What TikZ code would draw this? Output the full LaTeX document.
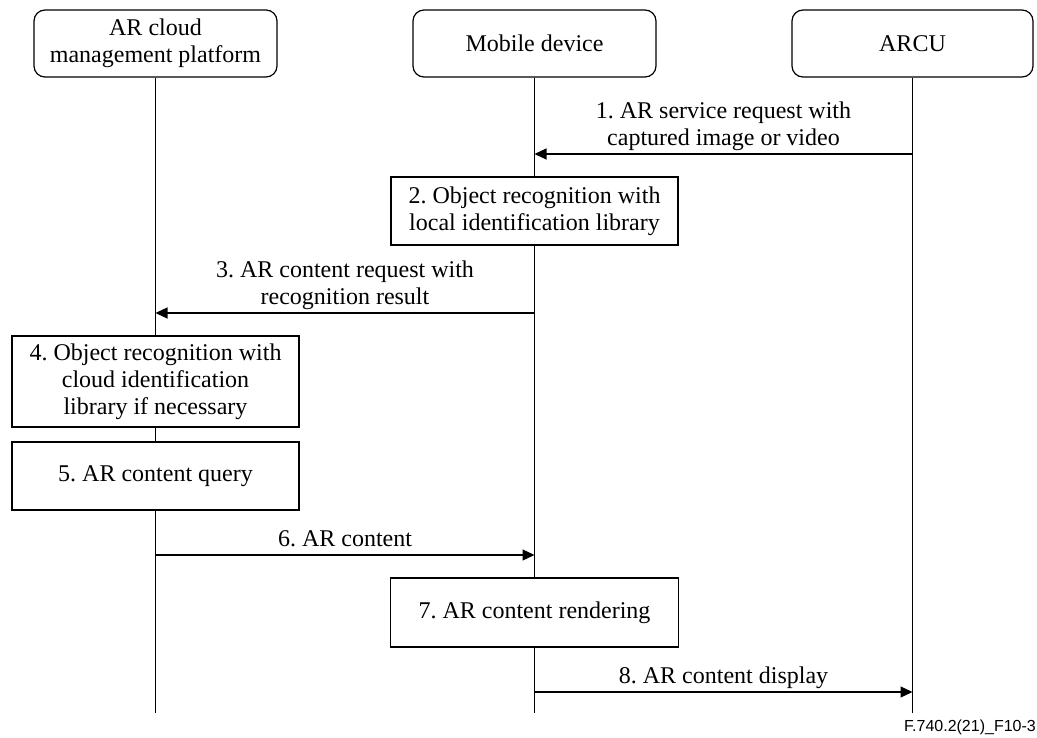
\documentclass[tikz,border=0pt]{standalone}
\usepackage{fontspec}
\setmainfont{Liberation Serif}
\newfontfamily\capfont{Liberation Sans}
\usetikzlibrary{arrows.meta}
\frenchspacing
\begin{document}
\begin{tikzpicture}[x=1pt,y=-1pt,
  txt/.style={font=\fontsize{24}{27}\selectfont},
  head/.style={txt, draw, line width=1.2pt, rounded corners=11pt, align=center, inner sep=0pt, minimum height=67pt},
  stepbox/.style={txt, draw, fill=white, line width=1.2pt, align=center, inner sep=0pt},
  life/.style={line width=1.2pt},
  msg/.style={line width=1.2pt, -{Triangle[length=12pt,width=11pt]}},
  lbl/.style={txt, align=center, anchor=south, text depth=6pt, inner sep=2pt}
]
\useasboundingbox (0,0) rectangle (1037,737);

% headers
\node[head, minimum width=243pt] (cmp) at (155.5,43.5) {AR cloud\\management platform};
\node[head, minimum width=243pt] (mob) at (534.5,43.5) {Mobile device};
\node[head, minimum width=241pt] (arcu) at (912.5,43.5) {ARCU};

% lifeline ends
\coordinate (cmpEnd) at (155.5,713);
\coordinate (mobEnd) at (534.5,713);
\coordinate (arcuEnd) at (912.5,713);

\draw[life] (cmp.south) -- (cmpEnd);
\draw[life] (mob.south) -- (mobEnd);
\draw[life] (arcu.south) -- (arcuEnd);

% processing boxes
\node[stepbox, minimum width=287pt, minimum height=68pt] (s2) at (534.5,211) {2. Object recognition with\\local identification library};
\node[stepbox, minimum width=287pt, minimum height=91pt] (s4) at (155.5,381.5) {4. Object recognition with\\cloud identification\\library if necessary};
\node[stepbox, minimum width=287pt, minimum height=68pt] (s5) at (155.5,476) {5. AR content query};
\node[stepbox, minimum width=288pt, minimum height=69pt] (s7) at (534.5,612.5) {7. AR content rendering};

% message points
\coordinate (m1a) at (912.5,154);
\coordinate (m1b) at (534.5,154);
\coordinate (m3a) at (534.5,313);
\coordinate (m3b) at (155.5,313);
\coordinate (m6a) at (155.5,555);
\coordinate (m6b) at (534.5,555);
\coordinate (m8a) at (534.5,692);
\coordinate (m8b) at (912.5,692);

\draw[msg] (m1a) -- node[lbl] (l1) {1. AR service request with\\captured image or video} (m1b);
\draw[msg] (m3a) -- node[lbl] (l3) {3. AR content request with\\recognition result} (m3b);
\draw[msg] (m6a) -- node[lbl] (l6) {6. AR content} (m6b);
\draw[msg] (m8a) -- node[lbl] (l8) {8. AR content display} (m8b);

% figure id
\node[anchor=east, inner sep=0pt, font=\capfont\fontsize{16}{18}\selectfont] (fid) at (1036,727) {F.740.2(21)\_F10-3};
\end{tikzpicture}
\end{document}
